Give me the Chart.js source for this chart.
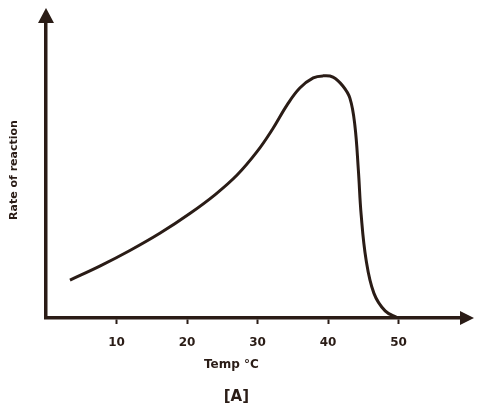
<!DOCTYPE html>
<html>
<head>
<meta charset="utf-8">
<script src="https://cdn.jsdelivr.net/npm/chart.js@4/dist/chart.umd.min.js"></script>
<style>
html,body{margin:0;padding:0;background:#ffffff;}
#wrap{width:477px;height:412px;position:relative;}
</style>
</head>
<body>
<div id="wrap"><canvas id="c" width="477" height="412"></canvas></div>
<script>
// Temperature (°C)
const temps = [3.4, 7.7, 11.9, 16.2, 20.4, 24.0, 27.1, 29.9, 32.1, 34.2, 36.0, 37.9, 39.3, 40.7, 42.1, 43.1, 43.8, 44.3, 44.7, 45.4, 46.5, 48.1, 49.9];
// Rate of reaction (relative units, no scale printed)
const rates = [12.8, 17.6, 22.8, 28.7, 35.3, 41.7, 48.3, 56.1, 63.7, 72.0, 77.7, 81.1, 81.8, 81.4, 78.4, 74.3, 65.2, 50.0, 34.8, 19.6, 8.4, 2.4, 0];
const xTicks = [10, 20, 30, 40, 50];
const xTitle = "Temp °C";
const yTitle = "Rate of reaction";
const caption = "[A]";

const ink = "#2a1c16";

const points = temps.map((t, i) => ({x: t, y: rates[i]}));

const decor = {
  id: 'decor',
  afterDraw(chart) {
    const {ctx, chartArea: a, scales} = chart;
    ctx.save();
    ctx.fillStyle = ink;
    // y-axis arrowhead
    ctx.beginPath();
    ctx.moveTo(a.left, a.top - 14);
    ctx.lineTo(a.left - 8, a.top + 1);
    ctx.lineTo(a.left + 8, a.top + 1);
    ctx.closePath();
    ctx.fill();
    // x-axis arrowhead
    ctx.beginPath();
    ctx.moveTo(a.right + 12, a.bottom);
    ctx.lineTo(a.right - 2, a.bottom - 7);
    ctx.lineTo(a.right - 2, a.bottom + 7);
    ctx.closePath();
    ctx.fill();
    // x title and caption
    ctx.textAlign = 'center';
    ctx.textBaseline = 'middle';
    ctx.font = "bold 12px 'DejaVu Sans'";
    ctx.fillText(xTitle, scales.x.getPixelForValue(26.3), a.bottom + 47);
    ctx.font = "bold 15px 'DejaVu Sans'";
    ctx.fillText(caption, scales.x.getPixelForValue(27), a.bottom + 79);
    ctx.restore();
  }
};

new Chart(document.getElementById('c'), {
  type: 'line',
  data: {
    datasets: [{
      data: points,
      borderColor: ink,
      borderWidth: 3,
      pointRadius: 0,
      fill: false,
      tension: 0.4
    }]
  },
  options: {
    responsive: false,
    animation: false,
    layout: {padding: {top: 22, right: 15, left: 0, bottom: 0}},
    plugins: {legend: {display: false}, tooltip: {enabled: false}, title: {display: false}},
    scales: {
      x: {
        type: 'linear',
        min: 0,
        max: 59,
        afterBuildTicks(scale) { scale.ticks = xTicks.map(v => ({value: v})); },
        afterFit(scale) { scale.height = 94; },
        grid: {display: true, drawOnChartArea: false, drawTicks: true, tickLength: 6, tickWidth: 2, tickColor: ink},
        border: {display: true, color: ink, width: 3.5},
        ticks: {color: ink, font: {family: 'DejaVu Sans', size: 12, weight: 'bold'}, padding: 12, maxRotation: 0}
      },
      y: {
        min: 0,
        max: 100,
        afterFit(scale) { scale.width = 46; },
        grid: {display: false},
        border: {display: true, color: ink, width: 3.5},
        ticks: {display: false},
        title: {display: true, text: yTitle, color: ink, font: {family: 'DejaVu Sans', size: 11, weight: 'bold'}, padding: {top: 8, bottom: 0}}
      }
    }
  },
  plugins: [decor]
});
</script>
</body>
</html>
